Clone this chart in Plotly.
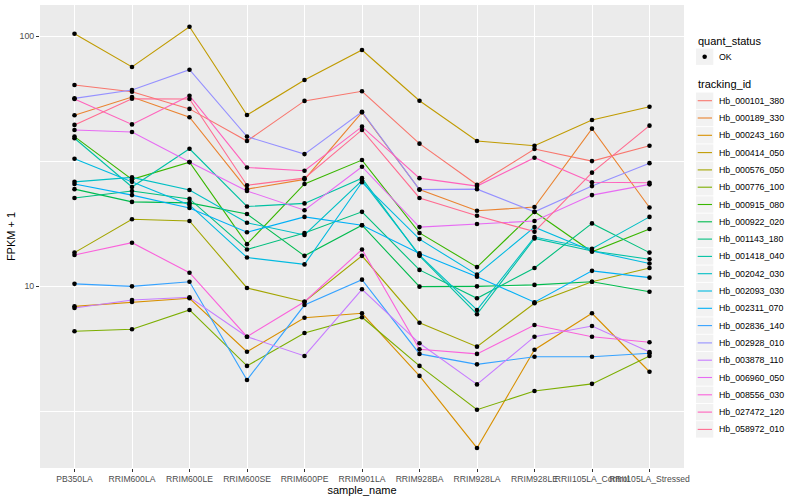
import plotly.graph_objects as go

samples = ["PB350LA", "RRIM600LA", "RRIM600LE", "RRIM600SE", "RRIM600PE", "RRIM901LA",
           "RRIM928BA", "RRIM928LA", "RRIM928LE", "RRII105LA_Control", "RRII105LA_Stressed"]

tracking_ids = ["Hb_000101_380", "Hb_000189_330", "Hb_000243_160", "Hb_000414_050", "Hb_000576_050",
                "Hb_000776_100", "Hb_000915_080", "Hb_000922_020", "Hb_001143_180", "Hb_001418_040",
                "Hb_002042_030", "Hb_002093_030", "Hb_002311_070", "Hb_002836_140", "Hb_002928_010",
                "Hb_003878_110", "Hb_006960_050", "Hb_008556_030", "Hb_027472_120", "Hb_058972_010"]

colors = ["#F8766D", "#EA8331", "#D89000", "#C09B00", "#A3A500", "#7CAE00", "#39B600", "#00BB4E",
          "#00BF7D", "#00C1A3", "#00BFC4", "#00BAE0", "#00B0F6", "#35A2FF", "#9590FF", "#C77CFF",
          "#E76BF3", "#FA62DB", "#FF62BC", "#FF6C91"]

# FPKM + 1 per sample (order of `samples`)
Hb_000101_380 = [63.7, 59.8, 51.1, 38.0, 55.0, 60.1, 37.1, 25.4, 35.3, 31.6, 36.4]
Hb_000189_330 = [48.2, 57.0, 47.3, 24.4, 26.7, 49.5, 24.3, 20.0, 20.7, 42.6, 20.6]
Hb_000243_160 = [8.29, 8.63, 8.93, 5.46, 7.46, 7.78, 4.37, 2.25, 5.56, 7.78, 4.54]
Hb_000414_050 = [102.1, 75.2, 108.9, 48.3, 66.7, 87.9, 55.1, 38.0, 36.4, 46.1, 52.1]
Hb_000576_050 = [13.6, 18.5, 18.2, 9.82, 8.65, 13.2, 7.13, 5.72, 8.53, 10.4, 11.8]
Hb_000776_100 = [6.59, 6.71, 8.02, 4.79, 6.49, 7.50, 4.79, 3.20, 3.80, 4.06, 5.25]
Hb_000915_080 = [39.6, 26.7, 31.3, 14.7, 25.6, 31.9, 16.3, 11.9, 19.8, 13.7, 16.9]
Hb_000922_020 = [24.4, 21.7, 21.5, 19.4, 13.2, 17.5, 9.94, 9.97, 10.1, 10.4, 9.48]
Hb_001143_180 = [22.5, 24.0, 22.3, 14.0, 16.3, 19.8, 11.6, 8.93, 11.8, 17.8, 13.6]
Hb_001418_040 = [39.0, 24.9, 35.4, 20.8, 21.4, 27.0, 13.2, 7.71, 15.5, 13.8, 12.8]
Hb_002042_030 = [26.1, 27.2, 24.2, 17.9, 16.0, 26.4, 13.3, 8.02, 15.7, 14.1, 18.9]
Hb_002093_030 = [32.3, 26.1, 21.1, 13.0, 12.2, 26.0, 15.4, 11.1, 17.2, 13.8, 12.3]
Hb_002311_070 = [25.6, 23.1, 20.5, 16.4, 18.9, 17.5, 13.5, 10.9, 8.61, 11.5, 10.8]
Hb_002836_140 = [10.2, 9.97, 10.4, 4.21, 8.39, 10.6, 5.35, 4.86, 5.21, 5.21, 5.38]
Hb_002928_010 = [56.3, 60.8, 73.3, 39.6, 33.7, 49.8, 24.3, 24.4, 19.8, 25.1, 31.0]
Hb_003878_110 = [8.17, 8.79, 9.01, 6.27, 5.25, 9.70, 5.90, 4.04, 6.27, 6.92, 5.44]
Hb_006960_050 = [42.1, 41.3, 31.3, 24.0, 20.1, 30.0, 17.2, 17.7, 18.2, 23.1, 25.5]
Hb_008556_030 = [13.3, 14.9, 11.3, 6.27, 8.65, 14.0, 5.58, 5.35, 6.98, 6.27, 5.96]
Hb_027472_120 = [56.0, 44.3, 57.7, 29.8, 28.9, 43.4, 27.0, 25.1, 32.6, 26.0, 25.9]
Hb_058972_010 = [44.1, 56.1, 56.0, 25.3, 27.0, 42.1, 22.5, 19.1, 16.5, 28.4, 43.8]

series = [Hb_000101_380, Hb_000189_330, Hb_000243_160, Hb_000414_050, Hb_000576_050,
          Hb_000776_100, Hb_000915_080, Hb_000922_020, Hb_001143_180, Hb_001418_040,
          Hb_002042_030, Hb_002093_030, Hb_002311_070, Hb_002836_140, Hb_002928_010,
          Hb_003878_110, Hb_006960_050, Hb_008556_030, Hb_027472_120, Hb_058972_010]

quant_status = ["OK"]
y_ticks = [10, 100]
y_minor = [10 ** 0.5, 10 ** 1.5]

FONT = "Liberation Sans, Arial, Helvetica, sans-serif"

fig = go.Figure()
for name, vals, col in zip(tracking_ids, series, colors):
    fig.add_trace(go.Scatter(x=samples, y=vals, mode="lines", name=name,
                             line=dict(color=col, width=1.1), showlegend=False))
for name, vals in zip(tracking_ids, series):
    fig.add_trace(go.Scatter(x=samples, y=vals, mode="markers", name=name,
                             marker=dict(color="black", size=4.6), showlegend=False))

# plot-area geometry in pixels (for the hand-built ggplot-style legend)
L, R, T, B = 40, 684, 5, 468
W, H = 800, 500


def px(x):
    return (x - L) / (R - L)


def py(y):
    return (B - y) / (B - T)


shapes = []
annots = []

# legend: quant_status
annots.append(dict(x=px(696), y=py(40.7), xref="paper", yref="paper", text="quant_status",
                   showarrow=False, xanchor="left", yanchor="middle",
                   font=dict(size=11, color="black", family=FONT)))
for i, q in enumerate(quant_status):
    cy = 56.7 + 17.3 * i
    shapes.append(dict(type="rect", xref="paper", yref="paper", x0=px(696), x1=px(713.3),
                       y0=py(cy - 8.2), y1=py(cy + 8.2), fillcolor="#F2F2F2", line=dict(width=0),
                       layer="above"))
    shapes.append(dict(type="circle", xref="paper", yref="paper", x0=px(702.4), x1=px(706.9),
                       y0=py(cy - 2.25), y1=py(cy + 2.25), fillcolor="black", line=dict(width=0),
                       layer="above"))
    annots.append(dict(x=px(716.7), y=py(cy), xref="paper", yref="paper", text=q,
                       showarrow=False, xanchor="left", yanchor="middle",
                       font=dict(size=8.8, color="black", family=FONT)))

# legend: tracking_id
annots.append(dict(x=px(696), y=py(84), xref="paper", yref="paper", text="tracking_id",
                   showarrow=False, xanchor="left", yanchor="middle",
                   font=dict(size=11, color="black", family=FONT)))
for i, (name, col) in enumerate(zip(tracking_ids, colors)):
    cy = 100.7 + 17.3 * i
    shapes.append(dict(type="rect", xref="paper", yref="paper", x0=px(696), x1=px(713.3),
                       y0=py(cy - 8.2), y1=py(cy + 8.2), fillcolor="#F2F2F2", line=dict(width=0),
                       layer="above"))
    shapes.append(dict(type="line", xref="paper", yref="paper", x0=px(697.7), x1=px(712.0),
                       y0=py(cy), y1=py(cy), line=dict(color=col, width=1.1), layer="above"))
    annots.append(dict(x=px(716.7), y=py(cy), xref="paper", yref="paper", text=name,
                       showarrow=False, xanchor="left", yanchor="middle",
                       font=dict(size=8.8, color="black", family=FONT)))

fig.update_layout(
    width=W, height=H,
    margin=dict(l=L, r=W - R, t=T, b=H - B),
    paper_bgcolor="white", plot_bgcolor="#EBEBEB",
    font=dict(family=FONT, color="black"),
    showlegend=False,
    shapes=shapes, annotations=annots,
)
fig.update_xaxes(
    type="category", categoryorder="array", categoryarray=samples,
    range=[-0.6, len(samples) - 0.4],
    showgrid=True, gridcolor="white", gridwidth=1.1, zeroline=False, showline=False,
    ticks="outside", ticklen=3, tickwidth=1, tickcolor="#333333", tickangle=0,
    tickmode="array", tickvals=samples, ticktext=samples,
    tickfont=dict(size=8.6, color="#4D4D4D", family=FONT),
    title=dict(text="sample_name", font=dict(size=11, color="black", family=FONT), standoff=2),
)
fig.update_yaxes(
    type="log", range=[0.272, 2.124],
    tickmode="array", tickvals=y_ticks, ticktext=[str(v) for v in y_ticks],
    showgrid=True, gridcolor="white", gridwidth=1.1, zeroline=False, showline=False,
    minor=dict(tickmode="array", tickvals=y_minor, showgrid=True, gridcolor="white", gridwidth=0.55),
    ticks="outside", ticklen=3, tickwidth=1, tickcolor="#333333",
    tickfont=dict(size=8.8, color="#4D4D4D", family=FONT),
    title=dict(text="FPKM + 1", font=dict(size=11, color="black", family=FONT), standoff=1),
)

fig.write_html("out.html", config={"displayModeBar": False},
               post_script="document.body.style.margin='0px';document.body.style.overflow='hidden';")
